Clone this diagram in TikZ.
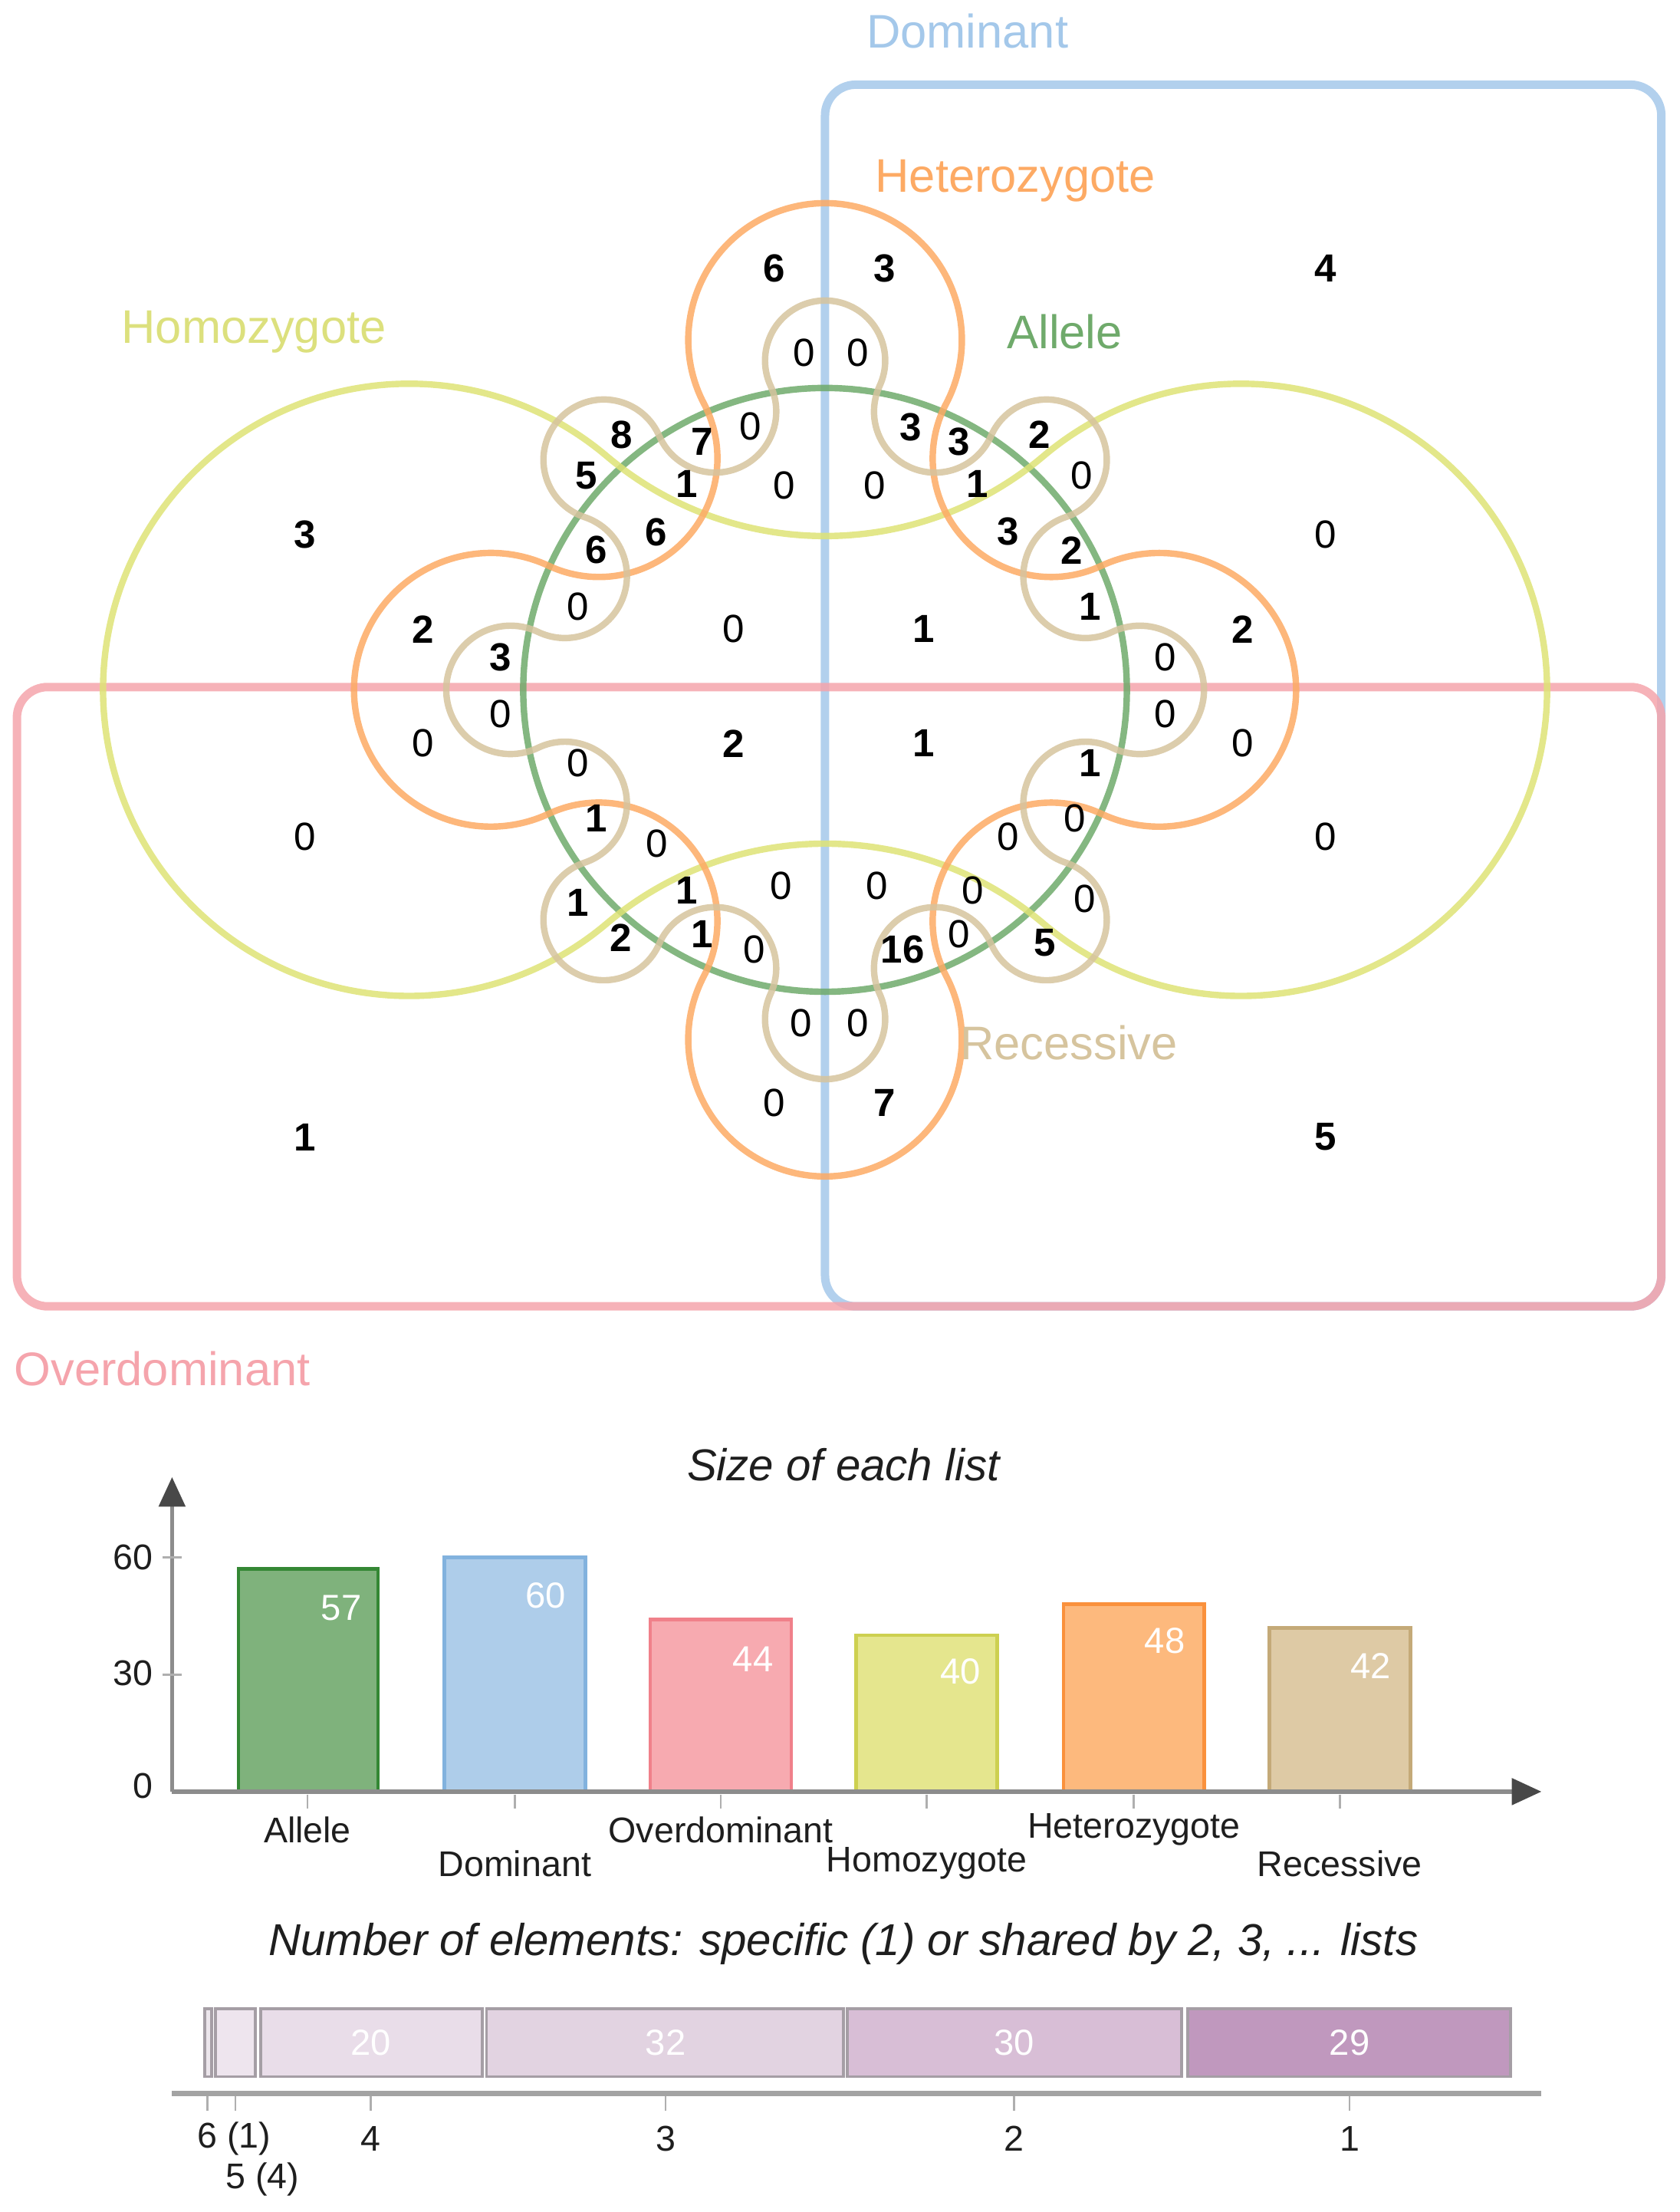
\documentclass[tikz,border=0pt]{standalone}
\usepackage{fontspec}
\setmainfont{Liberation Sans}
\usetikzlibrary{arrows.meta}

\definecolor{allelegreen}{RGB}{111,170,107}
\definecolor{dominantblue}{RGB}{164,200,234}
\definecolor{overpink}{RGB}{245,164,172}
\definecolor{homoyellow}{RGB}{222,227,118}
\definecolor{homolabel}{RGB}{220,224,125}
\definecolor{heteroorange}{RGB}{253,170,100}
\definecolor{recesstan}{RGB}{214,196,158}
\definecolor{allelebar}{RGB}{127,178,124}
\definecolor{alleleedge}{RGB}{52,135,52}
\definecolor{dominantbar}{RGB}{174,205,234}
\definecolor{dominantedge}{RGB}{130,178,222}
\definecolor{overbar}{RGB}{247,170,176}
\definecolor{overedge}{RGB}{240,128,138}
\definecolor{homobar}{RGB}{229,230,142}
\definecolor{homoedge}{RGB}{205,208,80}
\definecolor{heterobar}{RGB}{253,185,125}
\definecolor{heteroedge}{RGB}{250,145,60}
\definecolor{recessbar}{RGB}{222,202,165}
\definecolor{recessedge}{RGB}{196,170,120}
\definecolor{share1}{RGB}{192,152,190}
\definecolor{share2}{RGB}{216,190,214}
\definecolor{share3}{RGB}{226,211,225}
\definecolor{share4}{RGB}{233,221,233}
\definecolor{share5}{RGB}{238,229,238}
\definecolor{share6}{RGB}{236,230,236}
\definecolor{shareedge}{RGB}{165,158,165}
\definecolor{axisgray}{RGB}{140,140,140}
\definecolor{arrowdark}{RGB}{72,72,72}
\definecolor{textdark}{RGB}{30,30,30}

\tikzstyle{setline} = [line width=1.3pt, opacity=0.85]
\tikzstyle{boxline} = [line width=1.7pt, opacity=0.85, rounded corners=6.2pt]
\tikzstyle{countzero} = [inner sep=0pt, font=\fontsize{7.9}{9}\selectfont]
\tikzstyle{countbold} = [inner sep=0pt, font=\fontsize{7.9}{9}\selectfont\bfseries]
\tikzstyle{setname} = [inner sep=0pt, font=\fontsize{9.5}{11}\selectfont]
\tikzstyle{charttitle} = [inner sep=0pt, font=\fontsize{9}{11}\selectfont\itshape, text=textdark]
\tikzstyle{ticklabel} = [inner sep=0pt, font=\fontsize{7.2}{9}\selectfont, text=textdark]
\tikzstyle{barvalue} = [inner sep=0pt, font=\fontsize{7.3}{9}\selectfont, text=white]
\tikzstyle{barbox} = [line width=0.7pt]
\tikzstyle{chartaxis} = [draw=axisgray, line width=0.85pt]
\tikzstyle{axisarrow} = [-{Triangle[length=0.21cm, width=0.185cm, color=arrowdark]}]
\tikzstyle{tickmark} = [draw=axisgray!70, line width=0.4pt]
\tikzstyle{sharebox} = [draw=shareedge, line width=0.6pt]

\begin{document}
\begin{tikzpicture}[x=0.01cm, y=0.01cm]
	\useasboundingbox (0,0) rectangle (1191,-1568);

	% sets of the venn diagram
	\begin{scope}[shift={(585,-489)}]
		\draw[boxline, draw=dominantblue] (0,429) rectangle (593,-437);
		\draw[boxline, draw=overpink] (-573,2) rectangle (593,-437);
		\draw[setline, draw=allelegreen] (0,0) circle[radius=214];
		% homozygote: two lobes joined by tangent arcs
		\draw[setline, draw=homoyellow] (154.9,-165.7)
			arc[start angle=-130.21, end angle=130.21, radius=217]
			arc[start angle=-49.79, end angle=-130.21, radius=239.9]
			arc[start angle=49.79, end angle=310.21, radius=217]
			arc[start angle=130.21, end angle=49.79, radius=239.9] -- cycle;
		% heterozygote: four lobes
		\draw[setline, draw=heteroorange] (85.93,202.99)
			arc[start angle=-27.65, end angle=207.65, radius=97]
			arc[start angle=27.65, end angle=-115.06, radius=84]
			arc[start angle=64.94, end angle=295.06, radius=97]
			arc[start angle=115.06, end angle=-27.65, radius=84]
			arc[start angle=152.35, end angle=387.65, radius=97]
			arc[start angle=207.65, end angle=64.94, radius=84]
			arc[start angle=244.94, end angle=475.06, radius=97]
			arc[start angle=-64.94, end angle=-207.65, radius=84] -- cycle;
		% recessive: eight bumps and eight dents
		\draw[setline, draw=recesstan] (203.57,-41.05)
			arc[start angle=-115.56, end angle=115.56, radius=45.5]
			arc[start angle=-64.44, end angle=-251.46, radius=44]
			arc[start angle=-71.46, end angle=156.53, radius=42.8]
			arc[start angle=-23.47, end angle=-204.83, radius=43.3]
			arc[start angle=-24.83, end angle=204.83, radius=42.6]
			arc[start angle=24.83, end angle=-156.53, radius=43.3]
			arc[start angle=23.47, end angle=251.46, radius=42.8]
			arc[start angle=71.46, end angle=-115.56, radius=44]
			arc[start angle=64.44, end angle=295.56, radius=45.5]
			arc[start angle=115.56, end angle=-71.46, radius=44]
			arc[start angle=108.54, end angle=336.53, radius=42.8]
			arc[start angle=156.53, end angle=-24.83, radius=43.3]
			arc[start angle=155.17, end angle=384.83, radius=42.6]
			arc[start angle=204.83, end angle=23.47, radius=43.3]
			arc[start angle=203.47, end angle=431.46, radius=42.8]
			arc[start angle=251.46, end angle=64.44, radius=44] -- cycle;
	\end{scope}

	% set names
	\node[setname, text=dominantblue] (name-dom) at (686,-22) {Dominant};
	\node[setname, text=heteroorange] (name-het) at (720,-128) {Heterozygote};
	\node[setname, text=allelegreen] (name-all) at (755,-235) {Allele};
	\node[setname, text=homolabel] (name-hom) at (180,-235) {Homozygote};
	\node[setname, text=recesstan] (name-rec) at (758,-739) {Recessive};
	\node[setname, text=overpink] (name-ovd) at (115,-970) {Overdominant};

	% counts
	\node[countbold] (c1) at (549,-190) {6};
	\node[countbold] (c2) at (627,-190) {3};
	\node[countbold] (c3) at (940,-190) {4};
	\node[countzero] (c4) at (570,-250) {0};
	\node[countzero] (c5) at (608,-250) {0};
	\node[countbold] (c6) at (216,-379) {3};
	\node[countzero] (c7) at (940,-379) {0};
	\node[countbold] (c8) at (441,-308) {8};
	\node[countbold] (c9) at (498,-313) {7};
	\node[countzero] (c10) at (532,-302) {0};
	\node[countbold] (c11) at (416,-337) {5};
	\node[countbold] (c12) at (487,-343) {1};
	\node[countzero] (c13) at (556,-344) {0};
	\node[countzero] (c14) at (620,-344) {0};
	\node[countbold] (c15) at (646,-303) {3};
	\node[countbold] (c16) at (680,-313) {3};
	\node[countbold] (c17) at (737,-308) {2};
	\node[countbold] (c18) at (693,-343) {1};
	\node[countzero] (c19) at (767,-337) {0};
	\node[countbold] (c20) at (423,-390) {6};
	\node[countbold] (c21) at (465,-377) {6};
	\node[countbold] (c22) at (715,-377) {3};
	\node[countbold] (c23) at (760,-390) {2};
	\node[countbold] (c24) at (300,-446) {2};
	\node[countzero] (c25) at (410,-430) {0};
	\node[countzero] (c26) at (520,-446) {0};
	\node[countbold] (c27) at (655,-446) {1};
	\node[countbold] (c28) at (773,-430) {1};
	\node[countbold] (c29) at (881,-446) {2};
	\node[countbold] (c30) at (355,-466) {3};
	\node[countzero] (c31) at (355,-506) {0};
	\node[countzero] (c32) at (826,-466) {0};
	\node[countzero] (c33) at (826,-506) {0};
	\node[countzero] (c34) at (300,-527) {0};
	\node[countbold] (c35) at (520,-527) {2};
	\node[countbold] (c36) at (655,-527) {1};
	\node[countzero] (c37) at (881,-527) {0};
	\node[countzero] (c38) at (410,-541) {0};
	\node[countbold] (c39) at (773,-541) {1};
	\node[countbold] (c40) at (423,-580) {1};
	\node[countzero] (c41) at (466,-598) {0};
	\node[countzero] (c42) at (715,-593) {0};
	\node[countzero] (c43) at (762,-580) {0};
	\node[countzero] (c44) at (216,-593) {0};
	\node[countzero] (c45) at (940,-593) {0};
	\node[countbold] (c46) at (410,-640) {1};
	\node[countbold] (c47) at (487,-631) {1};
	\node[countzero] (c48) at (554,-628) {0};
	\node[countzero] (c49) at (622,-628) {0};
	\node[countzero] (c50) at (690,-631) {0};
	\node[countzero] (c51) at (769,-637) {0};
	\node[countbold] (c52) at (440,-665) {2};
	\node[countbold] (c53) at (498,-662) {1};
	\node[countzero] (c54) at (535,-673) {0};
	\node[countbold] (c55) at (640,-673) {16};
	\node[countzero] (c56) at (680,-662) {0};
	\node[countbold] (c57) at (741,-668) {5};
	\node[countzero] (c58) at (568,-725) {0};
	\node[countzero] (c59) at (608,-725) {0};
	\node[countzero] (c60) at (549,-782) {0};
	\node[countbold] (c61) at (627,-782) {7};
	\node[countbold] (c62) at (216,-806) {1};
	\node[countbold] (c63) at (940,-806) {5};

	% size of each list
	\node[charttitle] (title-size) at (598,-1038) {Size of each list};
	\draw[barbox, fill=allelebar, draw=alleleedge] (169,-1270) rectangle (268,-1112);
	\draw[barbox, fill=dominantbar, draw=dominantedge] (315,-1270) rectangle (415,-1104);
	\draw[barbox, fill=overbar, draw=overedge] (461,-1270) rectangle (561,-1148);
	\draw[barbox, fill=homobar, draw=homoedge] (607,-1270) rectangle (707,-1159);
	\draw[barbox, fill=heterobar, draw=heteroedge] (754,-1270) rectangle (854,-1137);
	\draw[barbox, fill=recessbar, draw=recessedge] (900,-1270) rectangle (1000,-1154);
	\node[barvalue] (val-all) at (242,-1140) {57};
	\node[barvalue] (val-dom) at (387,-1131) {60};
	\node[barvalue] (val-ovd) at (534,-1176) {44};
	\node[barvalue] (val-hom) at (681,-1185) {40};
	\node[barvalue] (val-het) at (826,-1163) {48};
	\node[barvalue] (val-rec) at (972,-1181) {42};
	\coordinate (bc-origin) at (122,-1270);
	\coordinate (bc-ytip) at (122,-1047);
	\coordinate (bc-xtip) at (1093,-1270);
	\draw[chartaxis, axisarrow] (bc-origin) -- (bc-ytip);
	\draw[chartaxis, axisarrow] (bc-origin) -- (bc-xtip);
	\draw[tickmark] (115,-1104) -- (129,-1104);
	\draw[tickmark] (115,-1187) -- (129,-1187);
	\node[ticklabel, anchor=east] (ytick60) at (109,-1104) {60};
	\node[ticklabel, anchor=east] (ytick30) at (109,-1186) {30};
	\node[ticklabel, anchor=east] (ytick0) at (109,-1266) {0};
	\draw[tickmark] (218,-1272) -- (218,-1282);
	\draw[tickmark] (365,-1272) -- (365,-1282);
	\draw[tickmark] (511,-1272) -- (511,-1282);
	\draw[tickmark] (657,-1272) -- (657,-1282);
	\draw[tickmark] (804,-1272) -- (804,-1282);
	\draw[tickmark] (950,-1272) -- (950,-1282);
	\node[ticklabel] (lab-all) at (218,-1297) {Allele};
	\node[ticklabel] (lab-dom) at (365,-1321) {Dominant};
	\node[ticklabel] (lab-ovd) at (511,-1297) {Overdominant};
	\node[ticklabel] (lab-hom) at (657,-1321) {Homozygote};
	\node[ticklabel] (lab-het) at (804,-1297) {Heterozygote};
	\node[ticklabel] (lab-rec) at (950,-1321) {Recessive};

	% number of shared elements
	\node[charttitle] (title-share) at (598,-1378) {Number of elements: specific (1) or shared by 2, 3, ... lists};
	\draw[sharebox, fill=share6] (145,-1424) rectangle (150,-1472);
	\draw[sharebox, fill=share5] (153,-1424) rectangle (181,-1472);
	\draw[sharebox, fill=share4] (185,-1424) rectangle (342,-1472);
	\draw[sharebox, fill=share3] (345,-1424) rectangle (598,-1472);
	\draw[sharebox, fill=share2] (601,-1424) rectangle (838,-1472);
	\draw[sharebox, fill=share1] (842,-1424) rectangle (1071,-1472);
	\node[barvalue] (sh4) at (263,-1448) {20};
	\node[barvalue] (sh3) at (472,-1448) {32};
	\node[barvalue] (sh2) at (719,-1448) {30};
	\node[barvalue] (sh1) at (957,-1448) {29};
	\coordinate (sc-left) at (122,-1484);
	\coordinate (sc-right) at (1093,-1484);
	\draw[draw=axisgray!80, line width=1.1pt] (sc-left) -- (sc-right);
	\draw[tickmark] (147,-1486) -- (147,-1496);
	\draw[tickmark] (167,-1486) -- (167,-1496);
	\draw[tickmark] (263,-1486) -- (263,-1496);
	\draw[tickmark] (472,-1486) -- (472,-1496);
	\draw[tickmark] (719,-1486) -- (719,-1496);
	\draw[tickmark] (957,-1486) -- (957,-1496);
	\node[ticklabel] (deg6) at (166,-1516) {6 (1)};
	\node[ticklabel] (deg5) at (186,-1545) {5 (4)};
	\node[ticklabel] (deg4) at (263,-1516) {4};
	\node[ticklabel] (deg3) at (472,-1516) {3};
	\node[ticklabel] (deg2) at (719,-1516) {2};
	\node[ticklabel] (deg1) at (957,-1516) {1};
\end{tikzpicture}
\end{document}
